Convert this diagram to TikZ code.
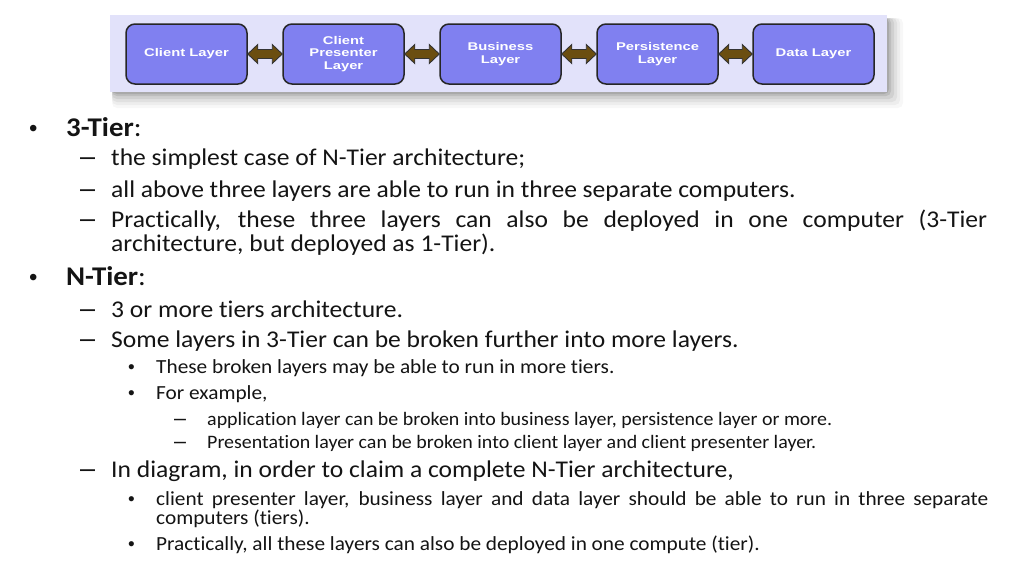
\documentclass[tikz,border=0pt]{standalone}
\usepackage{fontspec}
\usepackage{graphicx}
\setmainfont{Carlito}[Ligatures={NoCommon}]
\newfontfamily\arialfont{Liberation Sans}
\usetikzlibrary{calc}
\definecolor{panelbg}{RGB}{226,226,250}
\definecolor{layerfill}{RGB}{128,128,240}
\definecolor{arrowfill}{RGB}{107,78,16}
\definecolor{txt}{RGB}{20,20,20}
\newcommand{\bxt}[1]{\scalebox{1.32}[1]{#1}}
\newcommand{\Lone}[1]{{\fontsize{27}{32}\selectfont\scalebox{1.07}[1]{#1}}}
\newcommand{\Ltwo}[1]{{\fontsize{24}{29}\selectfont\scalebox{1.065}[1]{#1}}}
\newcommand{\Lthree}[1]{{\fontsize{20}{24}\selectfont\scalebox{1.065}[1]{#1}}}
\newcommand{\Lfour}[1]{{\fontsize{19}{23}\selectfont\scalebox{1.05}[1]{#1}}}
\tikzset{
  layerbox/.style={draw=black!85, line width=1.5pt, fill=layerfill, rounded corners=9pt,
    minimum width=121pt, minimum height=60pt, inner sep=0pt, align=center,
    text=white, font=\arialfont\bfseries\fontsize{11.2}{12.8}\selectfont},
  linetext/.style={anchor=base west, inner sep=0pt, text=txt},
  bulone/.style={linetext, font=\arialfont\fontsize{24}{28}\selectfont},
  dashtwo/.style={linetext, font=\arialfont\fontsize{27}{30}\selectfont},
  bulthree/.style={linetext, font=\arialfont\fontsize{19}{22}\selectfont},
  dashfour/.style={linetext, font=\arialfont\fontsize{21.5}{24}\selectfont},
  dblarrow/.style={draw=black!80, line width=0.9pt, fill=arrowfill, line join=miter}
}
\newcommand{\dblarr}[2]{%
  \path (#1.east) coordinate (aS) (#2.west) coordinate (aE);
  \draw[dblarrow] (aS) -- ++(10,-9.5) -- ++(0,5) -- ($(aE)+(-10,-4.5)$) -- ++(0,-5) -- (aE)
     -- ++(-10,9.5) -- ++(0,-5) -- ($(aS)+(10,4.5)$) -- ++(0,5) -- cycle;
}
\begin{document}
\begin{tikzpicture}[x=1pt,y=-1pt]
\useasboundingbox (0,0) rectangle (1024,576);
\fill[white] (0,0) rectangle (1024,576);
% panel shadow
\foreach \o/\a in {16/0.03,13/0.04,10/0.05,7/0.07,4/0.09,2/0.1} {
  \fill[black, opacity=\a, rounded corners=5pt] (112,18) rectangle (887+\o,92+\o);
}
\fill[panelbg] (110,15) rectangle (887,92);
% layer boxes
\node[layerbox] (cl) at (186.5,54) {\bxt{Client Layer}};
\node[layerbox] (cp) at (343.5,54) {\bxt{Client}\\\bxt{Presenter}\\\bxt{Layer}};
\node[layerbox] (bl) at (500.5,54) {\bxt{Business}\\\bxt{Layer}};
\node[layerbox] (pl) at (657.5,54) {\bxt{Persistence}\\\bxt{Layer}};
\node[layerbox] (dl) at (813.5,54) {\bxt{Data Layer}};
\dblarr{cl}{cp}
\dblarr{cp}{bl}
\dblarr{bl}{pl}
\dblarr{pl}{dl}
% text
\node[bulone] (b1) at (29,136) {•};
\node[linetext] (t1) at (66,136) {\Lone{\textbf{3-Tier}:}};
\node[dashtwo] (d11) at (80,165) {–};
\node[linetext] (t11) at (111,165) {\Ltwo{the simplest case of N-Tier architecture;}};
\node[dashtwo] (d12) at (80,197) {–};
\node[linetext] (t12) at (111,197) {\Ltwo{all above three layers are able to run in three separate computers.}};
\node[dashtwo] (d13) at (80,227) {–};
\node[linetext] (t13) at (111,227) {\Ltwo{\makebox[822.5pt][s]{Practically, these three layers can also be deployed in one computer (3-Tier}}};
\node[linetext] (t13b) at (111,251) {\Ltwo{architecture, but deployed as 1-Tier).}};
\node[bulone] (b2) at (29,285) {•};
\node[linetext] (t2) at (66,285) {\Lone{\textbf{N-Tier}:}};
\node[dashtwo] (d21) at (80,317) {–};
\node[linetext] (t21) at (111,317) {\Ltwo{3 or more tiers architecture.}};
\node[dashtwo] (d22) at (80,347) {–};
\node[linetext] (t22) at (111,347) {\Ltwo{Some layers in 3-Tier can be broken further into more layers.}};
\node[bulthree] (b221) at (128,373) {•};
\node[linetext] (t221) at (156,373) {\Lthree{These broken layers may be able to run in more tiers.}};
\node[bulthree] (b222) at (128,399) {•};
\node[linetext] (t222) at (156,399) {\Lthree{For example,}};
\node[dashfour] (d2221) at (174,425) {–};
\node[linetext] (t2221) at (207,425) {\Lfour{application layer can be broken into business layer, persistence layer or more.}};
\node[dashfour] (d2222) at (174,448) {–};
\node[linetext] (t2222) at (207,448) {\Lfour{Presentation layer can be broken into client layer and client presenter layer.}};
\node[dashtwo] (d23) at (80,477) {–};
\node[linetext] (t23) at (111,477) {\Ltwo{In diagram, in order to claim a complete N-Tier architecture,}};
\node[bulthree] (b231) at (128,505) {•};
\node[linetext] (t231) at (156,505) {\Lthree{\makebox[781.2pt][s]{client presenter layer, business layer and data layer should be able to run in three separate}}};
\node[linetext] (t231b) at (156,524) {\Lthree{computers (tiers).}};
\node[bulthree] (b232) at (128,550) {•};
\node[linetext] (t232) at (156,550) {\Lthree{Practically, all these layers can also be deployed in one compute (tier).}};
\end{tikzpicture}
\end{document}
